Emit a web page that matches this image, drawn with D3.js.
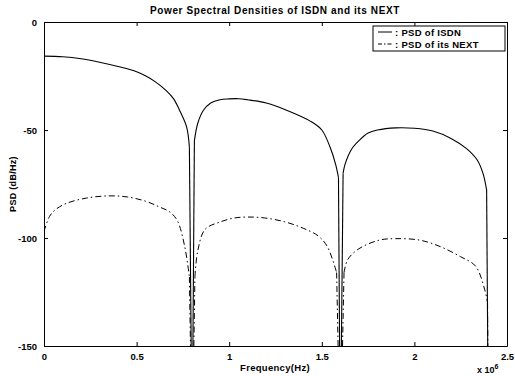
<!DOCTYPE html>
<html>
<head>
<meta charset="utf-8">
<script src="https://cdn.jsdelivr.net/npm/d3@7"></script>
<style>
    body { margin: 0; background: #fff; }
    svg text { font-family: "Liberation Sans", Arial, sans-serif; fill: #000; }
</style>
</head>
<body>
<svg id="chart" width="515" height="376"></svg>
<script>
// 資料：值 (頻率單位 x 10^6 Hz)，-200 代表零點(被裁切)
const isdnFreq = [0, 0.1, 0.2, 0.3, 0.4, 0.5, 0.55, 0.6, 0.66, 0.7, 0.73, 0.77, 0.785, 0.8,
    0.812, 0.83, 0.86, 0.9, 0.95, 1.0, 1.05, 1.1, 1.2, 1.3, 1.44, 1.5, 1.545, 1.575, 1.59, 1.6,
    1.615, 1.625, 1.66, 1.7, 1.75, 1.8, 1.9, 2.0, 2.1, 2.2, 2.28, 2.34, 2.37, 2.39, 2.4];
const isdnPsd = [-15.8, -16.1, -17, -18.6, -20.6, -23, -25, -27.6, -31.8, -35.6, -40.5, -48.6, -58, -200,
    -55, -47, -41, -37.5, -36, -35.6, -35.5, -36, -37.5, -40.5, -46, -50, -58, -66, -72, -200,
    -70, -66, -59, -55, -51.4, -50, -49, -49.2, -50.5, -54, -58.5, -64, -70, -77.8, -200];

const nextFreq = [0, 0.03, 0.06, 0.12, 0.23, 0.35, 0.45, 0.55, 0.62, 0.68, 0.72, 0.76, 0.785, 0.8,
    0.815, 0.83, 0.87, 0.95, 1.03, 1.1, 1.19, 1.3, 1.4, 1.48, 1.53, 1.58, 1.6,
    1.62, 1.64, 1.7, 1.81, 1.9, 2.03, 2.14, 2.25, 2.33, 2.38, 2.395, 2.4];
const nextPsd = [-97, -90, -87, -84, -81.5, -80.5, -81, -83, -85.5, -88, -92, -104, -118, -200,
    -118, -106, -96, -92.6, -90.7, -90.3, -90.7, -92.5, -95.5, -99, -104, -116, -200,
    -116, -110, -105, -101, -100.3, -101, -104, -108.7, -113, -124, -130, -200];

const xTicks = [0, 0.5, 1, 1.5, 2, 2.5];
const xTickLabels = ["0", "0.5", "1", "1.5", "2", "2.5"];
const yTicks = [0, -50, -100, -150];
const yTickLabels = ["0", "-50", "-100", "-150"];

const legendLabels = [": PSD of ISDN", ": PSD of its NEXT"];

// 畫布
const svg = d3.select("#chart");
const margin = { left: 44, right: 8, top: 22, bottom: 30 };
const W = 515, H = 376;

const x = d3.scaleLinear().domain([0, 2.5]).range([margin.left, W - margin.right]);
const y = d3.scaleLinear().domain([-150, 0]).range([H - margin.bottom, margin.top]);

svg.append("defs").append("clipPath").attr("id", "plotClip")
    .append("rect")
    .attr("x", x(0)).attr("y", y(0))
    .attr("width", x(2.5) - x(0)).attr("height", y(-150) - y(0));

// 曲線：每個主瓣用平滑曲線，零點的下墜用直線
const smooth = d3.line().x(d => x(d[0])).y(d => y(d[1])).curve(d3.curveCatmullRom.alpha(0.5));
const straight = d3.line().x(d => x(d[0])).y(d => y(d[1]));

function drawSeries(freq, psd, dash, width) {
    const pts = freq.map((f, i) => [f, psd[i]]);
    const lobes = [];
    const drops = [];
    let cur = [];
    pts.forEach((p, i) => {
        if (p[1] <= -150) {
            if (cur.length) {
                lobes.push(cur);
                drops.push([cur[cur.length - 1], p]);
            }
            if (i + 1 < pts.length) drops.push([p, pts[i + 1]]);
            cur = [];
        } else {
            cur.push(p);
        }
    });
    if (cur.length) lobes.push(cur);

    const g = plot.append("g")
        .attr("fill", "none")
        .attr("stroke", "#000")
        .attr("stroke-width", width)
        .attr("stroke-dasharray", dash);
    lobes.forEach(l => g.append("path").attr("d", smooth(l)));
    drops.forEach(d => g.append("path").attr("d", straight(d)));
}

const plot = svg.append("g").attr("clip-path", "url(#plotClip)");
drawSeries(nextFreq, nextPsd, "6,3,1.5,3", 1);
drawSeries(isdnFreq, isdnPsd, null, 1.1);

// 座標軸 (MATLAB 樣式, 刻度朝內)
const tickFont = "bold 9.5px 'Liberation Sans', Arial, sans-serif";

svg.append("g")
    .attr("transform", `translate(0,${y(-150)})`)
    .call(d3.axisBottom(x).tickValues(xTicks).tickSizeInner(-4).tickSizeOuter(0)
        .tickPadding(7).tickFormat((d, i) => xTickLabels[i]));

svg.append("g")
    .attr("transform", `translate(0,${y(0)})`)
    .call(d3.axisTop(x).tickValues(xTicks).tickSizeInner(-4).tickSizeOuter(0).tickFormat(""));

svg.append("g")
    .attr("transform", `translate(${x(0)},0)`)
    .call(d3.axisLeft(y).tickValues(yTicks).tickSizeInner(-4).tickSizeOuter(0)
        .tickPadding(7).tickFormat((d, i) => yTickLabels[i]));

svg.append("g")
    .attr("transform", `translate(${x(2.5)},0)`)
    .call(d3.axisRight(y).tickValues(yTicks).tickSizeInner(-4).tickSizeOuter(0).tickFormat(""));

svg.selectAll(".domain, .tick line").attr("stroke", "#000").attr("stroke-width", 1);
svg.selectAll(".tick text").style("font", tickFont).attr("fill", "#000");

// 標題與軸標籤
svg.append("text")
    .attr("x", 275).attr("y", 14)
    .attr("text-anchor", "middle")
    .style("font", "bold 10px 'Liberation Sans', Arial, sans-serif")
    .style("letter-spacing", "0.6px")
    .text("Power Spectral Densities of ISDN and its NEXT");

svg.append("text")
    .attr("x", 275).attr("y", 371)
    .attr("text-anchor", "middle")
    .style("font", "bold 9.5px 'Liberation Sans', Arial, sans-serif")
    .style("letter-spacing", "0.3px")
    .text("Frequency(Hz)");

svg.append("text")
    .attr("transform", `translate(16,${y(-75)}) rotate(-90)`)
    .attr("text-anchor", "middle")
    .style("font", "bold 9px 'Liberation Sans', Arial, sans-serif")
    .style("letter-spacing", "0.3px")
    .text("PSD (dB/Hz)");

const expo = svg.append("text")
    .attr("x", 477).attr("y", 373)
    .style("font", "bold 9px 'Liberation Sans', Arial, sans-serif");
expo.append("tspan").text("x 10");
expo.append("tspan").attr("dy", -4).style("font-size", "7px").text("6");

// 圖例
const legend = svg.append("g");
legend.append("rect")
    .attr("x", 373).attr("y", 26)
    .attr("width", 132).attr("height", 25)
    .attr("fill", "#fff").attr("stroke", "#000").attr("stroke-width", 1);

legendLabels.forEach((label, i) => {
    const ly = 32 + i * 12;
    legend.append("line")
        .attr("x1", 378).attr("x2", 392)
        .attr("y1", ly).attr("y2", ly)
        .attr("stroke", "#000").attr("stroke-width", 1)
        .attr("stroke-dasharray", i === 0 ? null : "4,2,1.5,2");
    legend.append("text")
        .attr("x", 395).attr("y", ly + 3.5)
        .style("font", "bold 9.5px 'Liberation Sans', Arial, sans-serif")
        .style("letter-spacing", "0.3px")
        .text(label);
});
</script>
</body>
</html>
